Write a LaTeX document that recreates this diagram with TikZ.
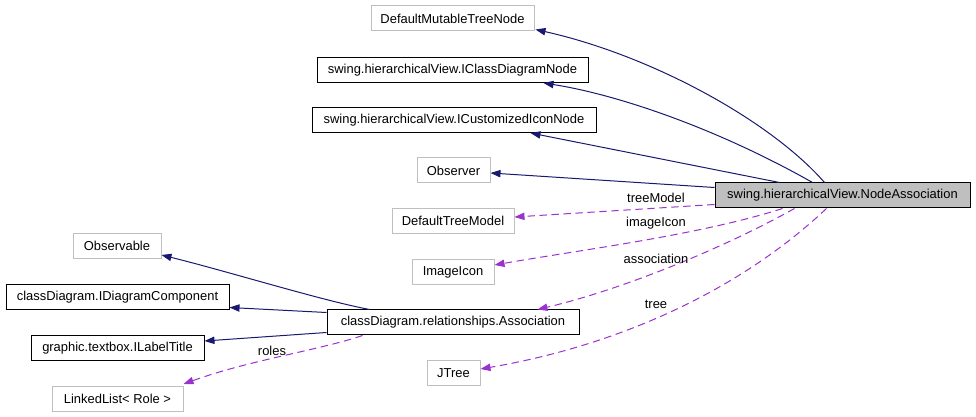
\documentclass[tikz,border=0pt]{standalone}
\usepackage{fontspec}
\setmainfont{Liberation Sans}
\usetikzlibrary{arrows.meta,calc}
\definecolor{edgeblue}{HTML}{191970}
\definecolor{edgepurple}{HTML}{9A32CD}
\definecolor{boxgray}{HTML}{BFBFBF}
\begin{document}
\begin{tikzpicture}[x=0.75pt,y=-0.75pt,
  every node/.style={font=\fontsize{9.7}{11}\selectfont},
  cls/.style={draw=boxgray,line width=0.75pt,fill=white,inner sep=0pt,minimum height=18.75pt,anchor=center},
  iface/.style={draw=black,line width=0.75pt,fill=white,inner sep=0pt,minimum height=18.75pt,anchor=center},
  focus/.style={draw=black,line width=0.75pt,fill=boxgray,inner sep=0pt,minimum height=18.75pt,anchor=center},
  inherit/.style={draw=edgeblue,line width=0.75pt,-{Triangle[length=7.5pt,width=5.5pt]}},
  usage/.style={draw=edgepurple,line width=0.75pt,dash pattern=on 5.5pt off 3.5pt,-{Triangle[length=7.5pt,width=5.5pt]}},
  elabel/.style={inner sep=0pt}]
\useasboundingbox (0,0) rectangle (976,417);
\fill[white] (0,0) rectangle (976,417);
% nodes
\node[cls,minimum width=122.25pt] (dmtn) at (452.5,18.5) {DefaultMutableTreeNode};
\node[iface,minimum width=203.25pt] (icdn) at (452.5,70) {swing.hierarchicalView.IClassDiagramNode};
\node[iface,minimum width=213pt] (icin) at (454,120) {swing.hierarchicalView.ICustomizedIconNode};
\node[cls,minimum width=54.75pt] (observer) at (453.5,170.5) {Observer};
\node[focus,minimum width=191.25pt] (na) at (842.5,195.5) {swing.hierarchicalView.NodeAssociation};
\node[cls,minimum width=91.5pt] (dtm) at (453,221) {DefaultTreeModel};
\node[cls,minimum width=61.5pt] (imageicon) at (453,272) {ImageIcon};
\node[cls,minimum width=66pt] (observable) at (117,246) {Observable};
\node[iface,minimum width=167.25pt] (idc) at (117.5,297.5) {classDiagram.IDiagramComponent};
\node[iface,minimum width=129.75pt] (ilt) at (117.5,348) {graphic.textbox.ILabelTitle};
\node[cls,minimum width=98.25pt] (ll) at (117.5,399) {LinkedList< Role >};
\node[iface,minimum width=189pt] (assoc) at (453,322.5) {classDiagram.relationships.Association};
\node[cls,minimum width=39.75pt] (jtree) at (453.5,373.5) {JTree};
% inheritance edges
\draw[inherit] ($(na.north west)+(110,0)$) .. controls (770,120) and (650,55) .. ($(dmtn.south east)+(1,-2)$);
\draw[inherit] ($(na.north west)+(98,0)$) .. controls (720,130) and (620,95) .. ($(icdn.south east)+(-45,0)$);
\draw[inherit] ($(na.north west)+(65,0)$) -- ($(icin.south east)+(-66,0)$);
\draw[inherit] ($(na.north west)+(0,5)$) -- ($(observer.east)+(0,2.5)$);
\draw[inherit] ($(assoc.north west)+(43,0)$) .. controls (320,300) and (230,272) .. ($(observable.south east)+(0,-4)$);
\draw[inherit] ($(assoc.north west)+(0,3)$) -- ($(idc.south east)+(0,-3)$);
\draw[inherit] ($(assoc.south west)+(0,-3)$) -- ($(ilt.east)+(0,-7)$);
% usage edges
\draw[usage] ($(na.north west)+(0,22)$) -- ($(dtm.east)+(0,-4)$);
\draw[usage] ($(na.south west)+(68,0)$) .. controls (700,235) and (580,250) .. ($(imageicon.east)+(0,-7)$);
\draw[usage] ($(na.south west)+(80,0)$) .. controls (720,250) and (620,290) .. ($(assoc.north east)+(-42,0)$);
\draw[usage] ($(na.south west)+(112,0)$) .. controls (740,290) and (620,345) .. ($(jtree.east)+(0,-4.5)$);
\draw[usage] ($(assoc.south west)+(36,0)$) .. controls (320,350) and (250,360) .. ($(ll.north east)+(0,-2)$);
% labels
\node[elabel] (ltm) at (656,198) {treeModel};
\node[elabel] (lii) at (656,223) {imageIcon};
\node[elabel] (las) at (656,259) {association};
\node[elabel] (ltr) at (656,304) {tree};
\node[elabel] (lro) at (272,351) {roles};
\end{tikzpicture}
\end{document}
